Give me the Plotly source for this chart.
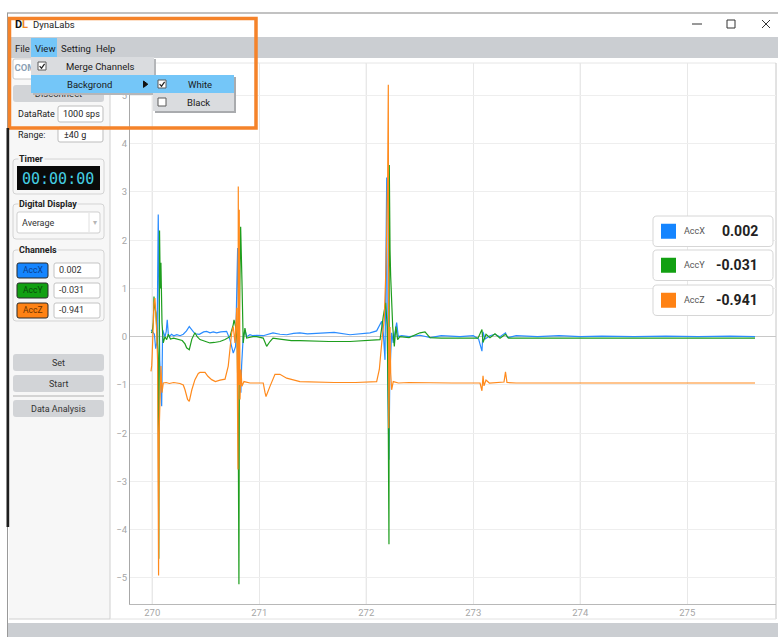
import plotly.graph_objects as go

# ---------------- data ----------------
accx_t = [269.990, 270.000, 270.009, 270.020, 270.032, 270.045, 270.056, 270.060, 270.070, 270.080,
          270.088, 270.097, 270.110, 270.119, 270.130, 270.140, 270.150, 270.159, 270.180, 270.200,
          270.230, 270.260, 270.290, 270.320, 270.346, 270.370, 270.399, 270.440, 270.480, 270.508,
          270.540, 270.570, 270.602, 270.640, 270.695, 270.726, 270.757, 270.779, 270.798, 270.806,
          270.813, 270.828, 270.835, 270.850, 270.866, 270.882, 270.913, 270.941, 270.976, 271.037,
          271.069, 271.128, 271.193, 271.256, 271.320, 271.380, 271.450, 271.567, 271.700, 271.848,
          271.941, 272.035, 272.097, 272.113, 272.144, 272.159, 272.175, 272.191, 272.195, 272.205,
          272.212, 272.220, 272.237, 272.252, 272.270, 272.284, 272.299, 272.330, 272.400, 272.502,
          272.600, 272.700, 272.876, 273.000, 273.050, 273.081, 273.091, 273.110, 273.156, 273.200,
          273.250, 273.301, 273.320, 273.400, 273.600, 273.800, 274.000, 274.200, 274.500, 274.800,
          275.100, 275.400, 275.633]
accx_v = [0.14, 0.10, 0.08, 0.05, -0.25, -0.10, 2.53, 1.50, -0.48, -1.00,
          -1.44, 0.14, 0.05, 0.00, 0.10, 0.35, 0.05, 0.00, 0.05, 0.02,
          0.04, 0.02, 0.05, 0.12, 0.21, 0.15, 0.06, 0.05, 0.10, 0.11,
          0.08, 0.10, 0.08, 0.10, 0.11, -0.06, -0.34, -0.20, 1.84, 0.50,
          -0.89, -1.16, -0.60, 0.00, 0.14, 0.00, 0.04, 0.02, 0.03, 0.02,
          0.04, 0.08, 0.05, 0.04, 0.07, 0.08, 0.06, 0.08, 0.09, 0.04,
          0.06, 0.08, 0.12, 0.18, 0.32, 0.08, -0.48, 3.30, 0.50, -1.50,
          -2.55, -0.80, 0.08, -0.13, 0.10, 0.29, 0.00, 0.02, 0.00, 0.03,
          -0.02, 0.02, 0.00, 0.02, -0.05, -0.30, 0.10, -0.05, 0.02, 0.05,
          0.00, 0.08, -0.02, 0.02, 0.00, 0.02, 0.00, 0.01, 0.00, 0.01,
          0.00, 0.01, 0.00]

accy_t = [269.990, 270.000, 270.010, 270.016, 270.025, 270.035, 270.047, 270.055, 270.061, 270.063,
          270.068, 270.075, 270.081, 270.091, 270.103, 270.119, 270.135, 270.150, 270.170, 270.200,
          270.240, 270.280, 270.306, 270.321, 270.346, 270.370, 270.399, 270.420, 270.446, 270.500,
          270.539, 270.580, 270.633, 270.680, 270.726, 270.757, 270.764, 270.779, 270.794, 270.804,
          270.810, 270.815, 270.826, 270.838, 270.850, 270.866, 270.882, 270.941, 270.976, 271.037,
          271.069, 271.100, 271.128, 271.193, 271.221, 271.300, 271.380, 271.500, 271.650, 271.848,
          272.000, 272.129, 272.159, 272.181, 272.196, 272.205, 272.212, 272.215, 272.222, 272.228,
          272.247, 272.262, 272.277, 272.293, 272.314, 272.400, 272.502, 272.549, 272.595, 272.700,
          272.876, 273.044, 273.081, 273.091, 273.119, 273.156, 273.203, 273.250, 273.301, 273.330,
          273.500, 273.800, 274.100, 274.400, 274.800, 275.200, 275.633]
accy_v = [0.08, 0.10, 0.30, 0.83, 0.60, 0.49, -0.06, -0.50, -4.60, -1.00,
          2.20, 1.00, 1.53, 0.29, -0.13, 0.00, -0.06, 0.05, -0.05, -0.03,
          -0.05, -0.08, -0.15, -0.23, -0.27, -0.05, 0.08, 0.00, -0.06, -0.10,
          -0.13, -0.12, -0.10, -0.06, 0.00, 0.25, 0.35, 0.21, -0.13, -2.00,
          -5.13, 0.50, 2.28, 1.18, -0.13, 0.18, -0.03, 0.00, 0.00, -0.03,
          -0.20, -0.10, -0.03, -0.05, -0.06, -0.08, -0.08, -0.09, -0.10, -0.10,
          -0.08, -0.06, 0.42, 0.70, 0.21, -1.50, -4.30, 3.56, 1.80, 1.25,
          0.21, -0.20, 0.21, -0.06, 0.00, -0.02, 0.08, 0.10, -0.02, -0.03,
          -0.03, -0.03, 0.15, -0.12, 0.05, -0.02, 0.06, -0.03, 0.05, -0.03,
          -0.03, -0.03, -0.03, -0.03, -0.03, -0.03, -0.03]

accz_t = [269.988, 269.995, 270.000, 270.016, 270.025, 270.035, 270.041, 270.050, 270.059, 270.064,
          270.072, 270.081, 270.091, 270.103, 270.130, 270.160, 270.200, 270.259, 270.290, 270.306,
          270.330, 270.346, 270.370, 270.399, 270.430, 270.446, 270.493, 270.520, 270.555, 270.590,
          270.633, 270.680, 270.710, 270.726, 270.742, 270.757, 270.773, 270.790, 270.801, 270.804,
          270.808, 270.813, 270.820, 270.829, 270.838, 270.857, 270.913, 270.976, 271.037, 271.053,
          271.063, 271.100, 271.147, 271.193, 271.256, 271.380, 271.500, 271.700, 271.900, 272.097,
          272.122, 272.137, 272.153, 272.168, 272.185, 272.200, 272.206, 272.210, 272.222, 272.228,
          272.237, 272.252, 272.300, 272.400, 272.600, 272.800, 273.063, 273.081, 273.091, 273.100,
          273.119, 273.150, 273.287, 273.301, 273.315, 273.400, 273.700, 274.000, 274.400, 274.800,
          275.200, 275.633]
accz_v = [-0.72, -0.60, -0.34, 0.70, 0.80, 0.40, 0.14, -0.50, -4.95, -2.00,
          -0.89, -0.61, -1.16, -0.96, -0.95, -0.97, -0.95, -0.97, -1.00, -1.10,
          -1.30, -1.34, -1.10, -0.89, -0.76, -0.74, -0.74, -0.82, -0.89, -0.93,
          -0.90, -0.88, -0.61, -0.20, 0.08, 0.21, -0.13, 0.60, -2.75, 3.11,
          -1.00, 2.63, -1.30, -0.68, -1.03, -0.93, -0.96, -0.96, -0.96, -1.15,
          -1.24, -1.03, -0.78, -0.78, -0.86, -0.93, -0.94, -0.95, -0.95, -0.93,
          -0.68, -0.27, 0.08, 0.35, 1.50, 3.32, 5.22, -1.90, 0.20, -0.75,
          -1.10, -0.93, -0.96, -0.95, -0.96, -0.96, -0.96, -1.12, -0.81, -1.02,
          -0.90, -0.96, -0.94, -0.73, -0.95, -0.96, -0.96, -0.96, -0.96, -0.96,
          -0.96, -0.96]

x_ticks = [270, 271, 272, 273, 274, 275]
y_ticks = [-5, -4, -3, -2, -1, 0, 1, 2, 3, 4, 5]
x_range = [269.792, 275.829]
y_range = [-5.54, 5.672]

channel_names = ["AccX", "AccY", "AccZ"]
channel_values = ["0.002", "-0.031", "-0.941"]
channel_colors = ["#1585FF", "#12A012", "#FF8214"]
line_colors = ["#2A8CFF", "#1E9E1E", "#FF8A1C"]
button_text_colors = ["#0B3E8C", "#0A4A0A", "#6A3300"]

# ---------------- helpers (UI layout in pixels) ----------------
W, H = 778, 637
FONT = "Roboto, 'Noto Sans', sans-serif"
shapes = []
annotations = []


def fx(x):
    return x / W


def fy(y):
    return 1 - y / H


def rect(x0, y0, x1, y1, fill="rgba(0,0,0,0)", line="rgba(0,0,0,0)", lw=0, r=0, layer="below"):
    if r == 0:
        shapes.append(dict(type="rect", xref="paper", yref="paper", x0=fx(x0), x1=fx(x1),
                           y0=fy(y1), y1=fy(y0), fillcolor=fill,
                           line=dict(color=line, width=lw), layer=layer))
    else:
        def p(x, y):
            return f"{fx(x):.5f},{fy(y):.5f}"
        path = (f"M {p(x0 + r, y0)} L {p(x1 - r, y0)} Q {p(x1, y0)} {p(x1, y0 + r)} "
                f"L {p(x1, y1 - r)} Q {p(x1, y1)} {p(x1 - r, y1)} L {p(x0 + r, y1)} "
                f"Q {p(x0, y1)} {p(x0, y1 - r)} L {p(x0, y0 + r)} Q {p(x0, y0)} {p(x0 + r, y0)} Z")
        shapes.append(dict(type="path", xref="paper", yref="paper", path=path, fillcolor=fill,
                           line=dict(color=line, width=lw), layer=layer))


def seg(x0, y0, x1, y1, color, lw=1, layer="below"):
    shapes.append(dict(type="line", xref="paper", yref="paper", x0=fx(x0), x1=fx(x1),
                       y0=fy(y0), y1=fy(y1), line=dict(color=color, width=lw), layer=layer))


def pathpx(pts, color, lw=1, fill=None, layer="above", close=False):
    d = "M " + " L ".join(f"{fx(x):.5f},{fy(y):.5f}" for x, y in pts)
    if close:
        d += " Z"
    shapes.append(dict(type="path", xref="paper", yref="paper", path=d,
                       fillcolor=fill if fill else "rgba(0,0,0,0)",
                       line=dict(color=color, width=lw), layer=layer))


def label(x, y, s, size=9, color="#222222", xanchor="left", bold=False, family=FONT, bg=None):
    a = dict(x=fx(x), y=fy(y), xref="paper", yref="paper",
             text=f"<b>{s}</b>" if bold else s, showarrow=False,
             xanchor=xanchor, yanchor="middle", borderpad=0,
             font=dict(size=size, color=color, family=family))
    if bg:
        a["bgcolor"] = bg
    annotations.append(a)


def checkbox(x0, y0, checked, layer="above"):
    rect(x0, y0, x0 + 8, y0 + 8, fill="#FFFFFF", line="#5A5A5A", lw=1, layer=layer)
    if checked:
        pathpx([(x0 + 1.6, y0 + 4.2), (x0 + 3.5, y0 + 6.2), (x0 + 6.6, y0 + 1.9)], "#222222", 1.2, layer=layer)


PANEL = "#F7F7F7"
GRAYBAR = "#CBCED2"
BTN = "#D2D4D7"

# ---------------- window frame ----------------
seg(7, 13, 778, 13, "#858585", 1)
seg(7.5, 13, 7.5, 637, "#9A9A9A", 1)
rect(8, 37, 778, 58, fill=GRAYBAR)                 # menu bar
rect(8, 623, 778, 637, fill=GRAYBAR)               # status bar
# title bar logo "DL" (L in orange)
label(13.5, 24.5, "D", size=11, color="#111111", bold=True)
label(20.5, 24.5, "L", size=11, color="#F0882A", bold=True)
label(32, 24.5, "DynaLabs", size=9.5, color="#222222")
seg(692, 24, 702, 24, "#333333", 1)
rect(727, 20, 735, 28, line="#333333", lw=1)
seg(762, 20, 770, 28, "#333333", 1)
seg(762, 28, 770, 20, "#333333", 1)
# menu texts
for tx_, s in [(14, "File"), (34, "View"), (60, "Setting"), (95, "Help")]:
    label(tx_, 48, s, size=9.5, color="#1A1A1A")

# ---------------- left panel ----------------
rect(9, 58, 110, 619, fill=PANEL)
seg(110, 58, 110, 619, "#D0D0D0", 1)
seg(9, 619, 110, 619, "#D0D0D0", 1)
rect(13, 59, 105, 79, fill="#FFFFFF", line="#C8C8C8", lw=1, r=2)          # COM combobox
rect(13, 85, 104, 102, fill=BTN, r=3)                                     # Disconnect
label(17, 114, "DataRate", size=9)
rect(58, 106, 103, 122, fill="#FFFFFF", line="#BDBDBD", lw=1, r=2)
label(62, 114, "1000 sps", size=9)
label(17, 135, "Range:", size=9)
rect(58, 127, 103, 142, fill="#FFFFFF", line="#BDBDBD", lw=1, r=2)
label(63, 135, "±40 g", size=9)
# Timer
rect(13, 159, 104, 194, line="#D4D4D4", lw=1, r=3)
label(18, 158.5, "Timer", size=9, bold=True, bg=PANEL)
rect(17, 166, 100, 190, fill="#0A0A0A")
label(58.5, 178.5, "00:00:00", size=15, color="#45CFE3", xanchor="center",
      family="'DejaVu Sans Mono', monospace")
# Digital display
rect(13, 204, 104, 239, line="#D4D4D4", lw=1, r=3)
label(18, 203.5, "Digital Display", size=9, bold=True, bg=PANEL)
rect(17, 212, 100, 233, fill="#FFFFFF", line="#CFCFCF", lw=1, r=2)
seg(89, 213, 89, 232, "#E0E0E0", 1)
label(94.5, 222.5, "▾", size=8, color="#B5B5B5", xanchor="center")
label(21, 222.5, "Average", size=9, color="#333333")
# Channels
rect(13, 250, 104, 321, line="#D4D4D4", lw=1, r=3)
label(18, 249.5, "Channels", size=9, bold=True, bg=PANEL)
for i, (nm, val, col, tcol) in enumerate(zip(channel_names, channel_values, channel_colors,
                                            button_text_colors)):
    y0 = 263 + 20 * i
    rect(17, y0, 48, y0 + 15, fill=col, line="#2A2A2A", lw=1, r=2)
    label(32.5, y0 + 7.5, nm, size=8.5, color=tcol, xanchor="center")
    rect(54, y0, 100, y0 + 15, fill="#FFFFFF", line="#C4C4C4", lw=1, r=2)
    label(57.5, y0 + 7.5, val, size=9, color="#333333")
# buttons
rect(13, 354, 104, 371, fill=BTN, r=3)
label(58.5, 362.5, "Set", size=9, color="#333333", xanchor="center")
rect(13, 375, 104, 392, fill=BTN, r=3)
label(58.5, 383.5, "Start", size=9, color="#333333", xanchor="center")
seg(13, 396, 104, 396, "#C9C9C9", 1.5)
rect(13, 400, 104, 417, fill=BTN, r=3)
label(58.5, 408.5, "Data Analysis", size=9, color="#333333", xanchor="center")

# ---------------- chart panel frame ----------------
seg(110, 63, 776, 63, "#E6E6E6", 1)
seg(776, 63, 776, 619, "#C6C6C6", 1)
seg(110, 619, 776, 619, "#E2E2E2", 1)

# darker vertical gridlines at even seconds
for xv in [270, 272, 274]:
    shapes.append(dict(type="line", xref="x", yref="paper", x0=xv, x1=xv,
                       y0=fy(604), y1=fy(63), line=dict(color="#D6D6D6", width=1), layer="below"))

# ---------------- channel read-out boxes (right) ----------------
for i, (nm, val, col) in enumerate(zip(channel_names, channel_values, channel_colors)):
    y0 = [216, 250, 285][i]
    y1 = y0 + 30.5
    yc = (y0 + y1) / 2
    rect(653, y0, 773, y1, fill="#FFFFFF", line="#D6D6D6", lw=1, r=4, layer="above")
    rect(661, yc - 7.5, 676, yc + 7.5, fill=col, layer="above")
    label(683, yc, nm, size=9, color="#555555")
    label(759, yc, val, size=14, color="#222222", xanchor="right", bold=True)

# ---------------- View menu (open) ----------------
rect(31, 38, 57, 57, fill="#74C6F8", layer="above")
rect(33, 59, 156, 95, fill="#B4B6B9", layer="above")            # shadow
rect(31, 57, 154, 93, fill="#DADCDF", layer="above")
rect(31, 75, 155, 93, fill="#74C6F8", layer="above")
rect(155, 77, 236, 113, fill="#A9ABAE", layer="above")          # submenu shadow
rect(153, 75, 234, 111, fill="#DADCDF", layer="above")
rect(153, 75, 234, 93, fill="#74C6F8", layer="above")
checkbox(38, 62, True)
label(100, 66.5, "Merge Channels", size=9.5, color="#1A1A1A", xanchor="center")
label(89, 84.5, "Backgrond", size=9.5, color="#1A1A1A", xanchor="center")
pathpx([(143.5, 81), (147.8, 84.2), (143.5, 87.4)], "#111111", 1, fill="#111111", close=True)
checkbox(158, 80, True)
label(200, 84.5, "White", size=9.5, color="#1A1A1A", xanchor="center")
checkbox(158, 98, False)
label(198.5, 102.5, "Black", size=9.5, color="#1A1A1A", xanchor="center")

# annotation highlight and screen edge
rect(9.5, 18.5, 256, 128, line="#F5832A", lw=3.5, layer="above")
rect(6.5, 128, 9.2, 527, fill="#1E1E1E", layer="above")

# ---------------- figure ----------------
fig = go.Figure()
for nm, t, v, c in [("AccX", accx_t, accx_v, line_colors[0]),
                    ("AccY", accy_t, accy_v, line_colors[1]),
                    ("AccZ", accz_t, accz_v, line_colors[2])]:
    fig.add_trace(go.Scatter(x=t, y=v, mode="lines", name=nm, line=dict(color=c, width=1.2),
                             showlegend=False, hoverinfo="skip"))

# texts that are partly hidden by the open menu (drawn as traces so the menu covers them)
fig.add_trace(go.Scatter(x=[14.5], y=[69], text=["<b>COM3</b>"], mode="text",
                         textposition="middle right", xaxis="x2", yaxis="y2",
                         textfont=dict(size=9.5, color="#8CA2B6", family=FONT),
                         showlegend=False, hoverinfo="skip"))
fig.add_trace(go.Scatter(x=[58.5], y=[94.5], text=["Disconnect"], mode="text",
                         textposition="middle center", xaxis="x2", yaxis="y2",
                         textfont=dict(size=9.5, color="#333333", family=FONT),
                         showlegend=False, hoverinfo="skip"))

fig.update_layout(
    width=W, height=H, margin=dict(l=0, r=0, t=0, b=0),
    paper_bgcolor="#FFFFFF", plot_bgcolor="rgba(0,0,0,0)",
    showlegend=False, hovermode=False,
    xaxis=dict(domain=[130 / W, 776 / W], range=x_range, tickvals=x_ticks,
               showgrid=True, gridcolor="#E8E8E8", gridwidth=1, zeroline=False,
               showline=True, linecolor="#B8B8B8", linewidth=1, ticks="",
               tickfont=dict(size=9.5, color="#A6A6A6", family=FONT), fixedrange=True),
    yaxis=dict(domain=[fy(604), fy(63)], range=y_range, tickvals=y_ticks,
               showgrid=True, gridcolor="#EEEEEE", gridwidth=1,
               zeroline=True, zerolinecolor="#C8C8C8", zerolinewidth=1,
               showline=True, linecolor="#A8A8A8", linewidth=1, ticks="",
               tickfont=dict(size=9.5, color="#A6A6A6", family=FONT), fixedrange=True),
    xaxis2=dict(domain=[0, 1], range=[0, W], visible=False, fixedrange=True),
    yaxis2=dict(domain=[0, 1], range=[H, 0], visible=False, fixedrange=True),
    shapes=shapes, annotations=annotations,
)

fig.write_html("out.html")
